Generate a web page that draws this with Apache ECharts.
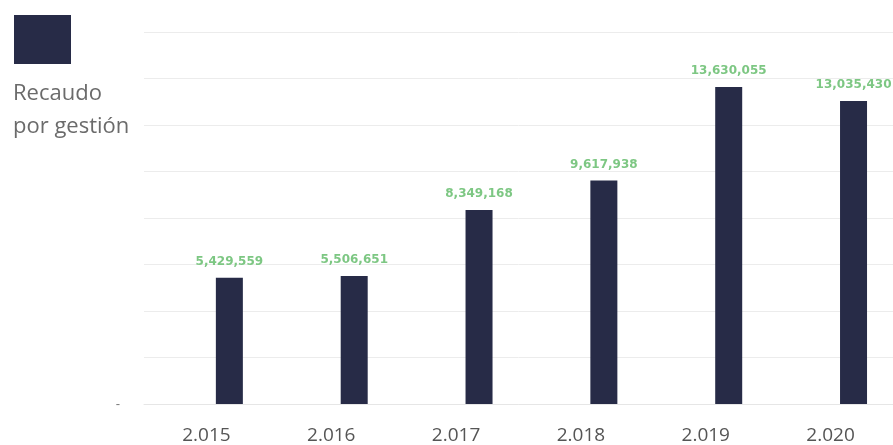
<!DOCTYPE html>
<html><head><meta charset="utf-8">
<script src="https://cdn.jsdelivr.net/npm/echarts@6/dist/echarts.min.js"></script>
<style>html,body{margin:0;padding:0;background:#fff}#c{width:893px;height:445px}</style>
</head><body><div id="c"></div>
<script>
const categories = ['2.015','2.016','2.017','2.018','2.019','2.020'];
const recaudo = [5429559, 5506651, 8349168, 9617938, 13630055, 13035430];
const spacer = [null, null, null, null, null, null];
const seriesName = 'Recaudo por gestión';

const chart = echarts.init(document.getElementById('c'));
chart.setOption({
  animation: false,
  backgroundColor: '#fff',
  title: {
    text: 'Recaudo\npor gestión', left: 8, top: 72,
    textStyle: {color: '#6b6b6b', fontSize: 22, fontWeight: 'normal', fontFamily: 'Open Sans', lineHeight: 33}
  },
  legend: {
    left: 9, top: 10, itemWidth: 57, itemHeight: 49, icon: 'rect',
    data: [seriesName], formatter: () => '', itemGap: 0
  },
  grid: {left: 144, right: 0, top: 32, bottom: 41},
  xAxis: {
    type: 'category', data: categories,
    axisLine: {show: true, lineStyle: {color: '#e6e6e6'}},
    axisTick: {show: false},
    axisLabel: {color: '#555', fontSize: 19, fontFamily: 'Open Sans', margin: 22}
  },
  yAxis: {
    type: 'value', min: 0, max: 16000000, interval: 2000000,
    axisLine: {show: false}, axisTick: {show: false},
    splitLine: {lineStyle: {color: '#ececec'}},
    axisLabel: {formatter: v => v === 0 ? '-' : '', color: '#777', fontSize: 13, margin: 24}
  },
  series: [
    {type: 'bar', name: 'spacer', data: spacer, barWidth: 27, barGap: '70%', silent: true},
    {
      type: 'bar', name: seriesName, data: recaudo, barWidth: 27, barGap: '70%',
      itemStyle: {color: '#272b47'},
      label: {
        show: true, position: 'top', distance: 10, color: '#7dc783',
        fontSize: 12, fontWeight: 'bold', fontFamily: 'DejaVu Sans',
        formatter: p => p.value.toLocaleString('en-US')
      }
    }
  ]
});
</script></body></html>
